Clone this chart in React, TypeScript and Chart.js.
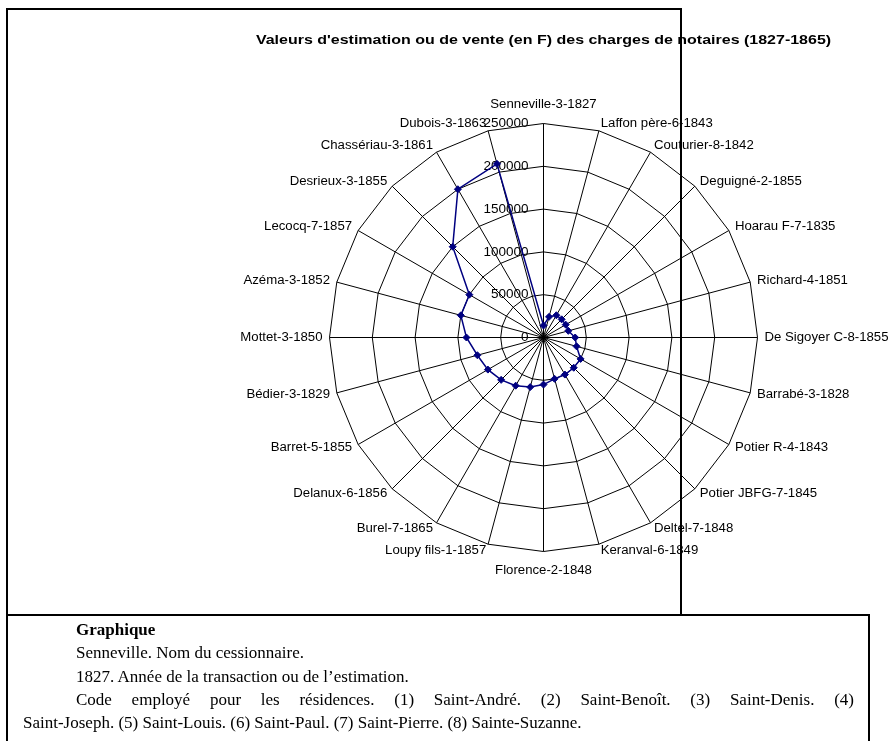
import React, { useEffect, useRef } from "react";
import { Chart, registerables } from "chart.js";

Chart.register(...registerables);

const CATEGORIES: string[] = [
  "Senneville-3-1827",
  "Laffon père-6-1843",
  "Couturier-8-1842",
  "Deguigné-2-1855",
  "Hoarau F-7-1835",
  "Richard-4-1851",
  "De Sigoyer C-8-1855",
  "Barrabé-3-1828",
  "Potier R-4-1843",
  "Potier JBFG-7-1845",
  "Deltel-7-1848",
  "Keranval-6-1849",
  "Florence-2-1848",
  "Loupy fils-1-1857",
  "Burel-7-1865",
  "Delanux-6-1856",
  "Barret-5-1855",
  "Bédier-3-1829",
  "Mottet-3-1850",
  "Azéma-3-1852",
  "Lecocq-7-1857",
  "Desrieux-3-1855",
  "Chassériau-3-1861",
  "Dubois-3-1863",
];

const VALUES: number[] = [
  14000, 25000, 30000, 30000, 30000, 30000, 37000, 40000, 50000, 50000, 50000,
  50000, 55000, 60000, 65000, 70000, 75000, 80000, 90000, 100000, 100000,
  150000, 200000, 210000,
];

const SCALE_MIN = 0;
const SCALE_MAX = 250000;
const SCALE_STEP = 50000;

const TITLE =
  "Valeurs d'estimation ou de vente (en F) des charges de notaires (1827-1865)";

function drawStretched(ctx: CanvasRenderingContext2D, text: string, x: number, y: number, sx: number) {
  ctx.save();
  ctx.translate(x, y);
  ctx.scale(sx, 1);
  ctx.fillText(text, 0, 0);
  ctx.restore();
}

const excelTextPlugin = {
  id: "excelText",
  beforeDatasetsDraw(chart: any) {
    const s: any = chart.scales.r;
    const ctx: CanvasRenderingContext2D = chart.ctx;
    const R = s.drawingArea;
    ctx.save();
    ctx.fillStyle = "#000";
    ctx.textBaseline = "middle";

    // radial tick labels, right-aligned left of the vertical spoke
    ctx.font = "13.5px 'Liberation Sans', Arial, sans-serif";
    ctx.textAlign = "right";
    for (const t of s.ticks) {
      const d = s.getDistanceFromCenterForValue(t.value);
      ctx.fillText(String(t.value), s.xCenter - 15, s.yCenter - d);
    }

    // category labels around the web
    ctx.font = "12px 'Liberation Sans', Arial, sans-serif";
    (chart.data.labels as string[]).forEach((lab, i) => {
      const a = s.getIndexAngle(i);
      const sin = Math.sin(a);
      const vertical = Math.abs(sin) < 0.01;
      const p = s.getPointPosition(i, R + (vertical ? 19 : 7));
      ctx.textAlign = vertical ? "center" : sin > 0 ? "left" : "right";
      drawStretched(ctx, lab, p.x, p.y, 1.1);
    });

    // title
    ctx.font = "bold 13px 'Liberation Sans', Arial, sans-serif";
    ctx.textAlign = "center";
    drawStretched(ctx, TITLE, s.xCenter, s.yCenter - 297, 1.23);
    ctx.restore();
  },
};

export default function App() {
  const ref = useRef<HTMLCanvasElement>(null);

  useEffect(() => {
    const chart = new Chart(ref.current as HTMLCanvasElement, {
      type: "radar",
      data: {
        labels: CATEGORIES,
        datasets: [
          {
            data: VALUES,
            borderColor: "#000080",
            backgroundColor: "#000080",
            borderWidth: 1.5,
            fill: false,
            tension: 0,
            pointStyle: "rectRot",
            pointRadius: 3.5,
            pointBorderWidth: 1,
            pointBackgroundColor: "#000080",
            pointBorderColor: "#000080",
          },
        ],
      },
      options: {
        animation: false,
        responsive: false,
        events: [],
        layout: { padding: { left: 329, right: 135, top: 123, bottom: 63 } },
        plugins: {
          legend: { display: false },
          tooltip: { enabled: false },
          title: { display: false },
        },
        scales: {
          r: {
            min: SCALE_MIN,
            max: SCALE_MAX,
            ticks: { stepSize: SCALE_STEP, display: false },
            pointLabels: { display: false },
            grid: { color: "#000", lineWidth: 1 },
            angleLines: { color: "#000", lineWidth: 1 },
            afterFit: (scale: any) => {
              // align the centre on a half pixel so straight spokes are crisp
              scale.xCenter += 0.5;
              scale.yCenter += 0.5;
            },
          },
        },
      },
      plugins: [excelTextPlugin],
    });
    return () => chart.destroy();
  }, []);

  const serif = "'Liberation Serif', 'Times New Roman', serif";
  const para = { margin: 0, textIndent: 53 } as const;

  return (
    <div
      style={{
        position: "absolute",
        left: 0,
        top: 0,
        width: 892,
        height: 741,
        overflow: "hidden",
        background: "#fff",
      }}
    >
      <canvas
        ref={ref}
        width={892}
        height={614}
        style={{ position: "absolute", left: 0, top: 0, width: 892, height: 614 }}
      />
      <div
        style={{
          position: "absolute",
          left: 6,
          top: 8,
          width: 676,
          height: 608,
          boxSizing: "border-box",
          border: "2px solid #000",
          pointerEvents: "none",
        }}
      />
      <div
        style={{
          position: "absolute",
          left: 6,
          top: 614,
          width: 864,
          height: 160,
          boxSizing: "border-box",
          border: "2px solid #000",
          padding: "2px 14px 0 15px",
          fontFamily: serif,
          fontSize: 17,
          lineHeight: "23.3px",
          color: "#000",
        }}
      >
        <p style={{ ...para, fontWeight: "bold" }}>Graphique</p>
        <p style={para}>Senneville. Nom du cessionnaire.</p>
        <p style={para}>1827. Année de la transaction ou de l’estimation.</p>
        <p style={{ ...para, textAlign: "justify", textAlignLast: "justify" }}>
          Code employé pour les résidences. (1) Saint-André. (2) Saint-Benoît. (3)
          Saint-Denis. (4)
        </p>
        <p style={{ margin: 0 }}>
          Saint-Joseph. (5) Saint-Louis. (6) Saint-Paul. (7) Saint-Pierre. (8)
          Sainte-Suzanne.
        </p>
      </div>
    </div>
  );
}
